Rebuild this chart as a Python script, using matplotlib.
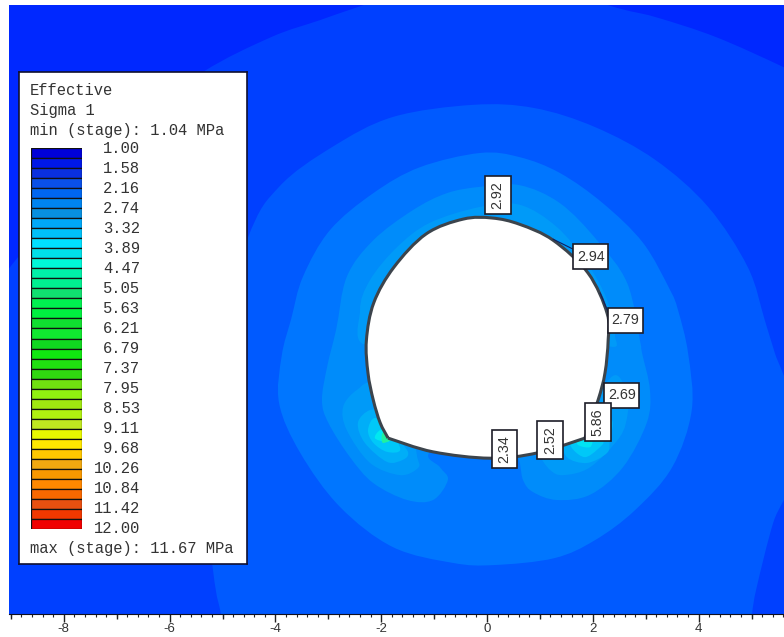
import matplotlib
matplotlib.use('Agg')
import matplotlib.pyplot as plt
from matplotlib.patches import PathPatch, Rectangle
from matplotlib.path import Path
import numpy as np

plt.rcParams['axes.unicode_minus'] = False

# tunnel boundary, model units (clockwise from crown), floor runs between the two corners
tunnel_arch = [(-1.87, -1.76), (-2.02, -1.47), (-2.15, -1.04), (-2.25, -.53), (-2.28, .09),
               (-2.14, .80), (-1.76, 1.47), (-1.15, 2.10), (-.45, 2.38), (.10, 2.40), (.62, 2.28),
               (1.25, 1.98), (1.91, 1.36), (2.27, .60), (2.29, .09), (2.23, -.53), (2.10, -1.04),
               (1.85, -1.76)]
tunnel_floor = [(1.85, -1.76), (.95, -2.04), (.06, -2.14), (-1.02, -2.02), (-1.87, -1.76)]

# stress contour outlines, outermost first
ring1 = [(-9.5, .8), (-7.8, 2.9), (-6.6, 4.2), (-5.37, 5.16), (-4.08, 5.82), (-3.16, 6.14), (-2.32, 6.43),
         (0, 7.2), (2.27, 6.43), (3.18, 6.20), (4.33, 5.82), (5.61, 5.25), (6.5, 4.8), (8, 1), (8, -6.5),
         (-11, -6.5), (-11, -2)]
ring2 = [(-5.03, -5.08), (-5.18, -4.25), (-5.52, -1.04), (-4.54, 1.98), (-3.93, 2.99), (-2.93, 3.74),
         (-1.78, 4.31), (-.26, 4.54), (.89, 4.48), (2.04, 4.12), (3.18, 3.50), (4.18, 2.61),
         (4.93, 1.47), (5.25, .47), (5.44, -.15), (5.73, -1.04), (5.73, -2.55), (5.41, -3.36),
         (5.10, -4.57), (5.01, -5.08), (4.97, -5.6), (-4.95, -5.6)]
ring3 = [(-3.70, .50), (-3.88, -.20), (-3.93, -1.10), (-3.53, -2.04), (-2.78, -3.06), (-1.78, -3.82),
         (-.64, -4.12), (.13, -4.16), (1.27, -4.03), (2.04, -3.69), (2.80, -3.12), (3.50, -2.31),
         (3.87, -1.23), (3.80, -.15), (3.61, .66), (3.46, 1.04), (2.95, 1.93), (2.19, 2.68),
         (1.38, 3.25), (.62, 3.55), (-.13, 3.63), (-1.27, 3.36), (-2.15, 2.87), (-2.97, 2.17),
         (-3.48, 1.29)]
ring4 = [(-.13, 2.99), (-.76, 2.87), (-1.40, 2.55), (-2.15, 1.98), (-2.65, 1.29), (-2.85, .30),
         (-3.02, -.40), (-3.12, -1.04), (-3.0, -1.47), (-2.59, -2.12), (-2.15, -2.61), (-1.51, -2.93),
         (-1.02, -2.93), (-.74, -2.55), (-.89, -2.31), (-1.08, -2.02), (-.13, -1.42), (.53, -2.02),
         (.68, -2.55), (.87, -2.78), (1.32, -2.93), (1.95, -2.83), (2.57, -2.31), (3.02, -1.47),
         (3.08, -.85), (2.93, -.15), (2.89, .09), (2.65, 1.17), (2.08, 1.98), (1.38, 2.68), (.62, 3.02)]
crown5 = [(-2.40, .66), (-2.21, 1.23), (-1.70, 1.85), (-1.08, 2.31), (-.13, 2.61), (.62, 2.65),
          (1.32, 2.23), (1.89, 1.55), (2.27, .85), (2.42, .19), (2.2, 0), (0, .85), (-2.2, 0)]
left5 = [(-2.72, -1.17), (-2.46, -.85), (-2.12, -.76), (-1.46, -1.61), (-1.32, -2.12), (-1.30, -2.32),
         (-1.64, -2.46), (-2.21, -2.23), (-2.65, -1.61)]
left6 = [(-2.44, -1.47), (-2.21, -1.23), (-1.93, -1.32), (-1.64, -1.80), (-1.49, -2.04), (-1.59, -2.17),
         (-1.89, -2.21), (-2.31, -1.85)]
left7 = [(-2.25, -1.61), (-2.12, -1.38), (-1.83, -1.61), (-1.64, -1.98), (-1.89, -2.02), (-2.15, -1.85)]
left8 = [(-2.02, -1.61), (-1.80, -1.61), (-1.83, -1.80), (-1.93, -1.83), (-2.12, -1.76)]
left9 = [(-1.97, -1.66), (-1.78, -1.76), (-1.97, -1.85)]
right5 = [(1.19, -2.36), (1.44, -2.46), (1.95, -2.31), (2.51, -1.74), (2.66, -1.29), (2.65, -.94),
          (2.42, -.57), (1.95, -1.04), (1.0, -1.80), (1.0, -2.08)]
right6 = [(1.51, -2.12), (1.89, -2.23), (2.27, -2.04), (2.32, -1.80), (2.36, -1.42), (1.95, -1.42),
          (1.47, -1.80)]
right7 = [(1.63, -1.98), (1.85, -2.12), (2.08, -1.98), (2.19, -1.80), (1.76, -1.61), (1.57, -1.80)]
right8 = [(1.72, -1.89), (1.95, -1.93), (1.98, -1.74), (1.72, -1.76)]

contours = [ring1, ring2, ring3, ring4, crown5, left5, left6, left7, left8, left9,
            right5, right6, right7, right8]
contour_colors = ['#0040ff', '#005aff', '#0076ff', '#008cfa', '#009af8', '#009af8', '#00aef8',
                  '#00c8f8', '#00e8f0', '#20f0a0', '#009af8', '#00aef8', '#00c8f8', '#00e4f4']
background = '#0028ff'

# query labels on the boundary
query_text = ['2.92', '2.94', '2.79', '2.69', '5.86', '2.52', '2.34']
query_x = [.20, 1.96, 2.62, 2.55, 2.09, 1.19, .33]
query_y = [2.84, 1.67, .47, -.95, -1.45, -1.80, -1.96]
query_vertical = [True, False, False, False, True, True, True]
leaders = [((1.25, 2.00), (1.63, 1.81)), ((2.14, .98), (2.29, .62))]

# legend
legend_values = ['1.00', '1.58', '2.16', '2.74', '3.32', '3.89', '4.47', '5.05', '5.63', '6.21',
                 '6.79', '7.37', '7.95', '8.53', '9.11', '9.68', '10.26', '10.84', '11.42', '12.00']
legend_colors = ['#0000d8', '#0018e8', '#0a30e0', '#0a50e8', '#0066f0', '#0084f0', '#0890e0', '#00a8f8',
                 '#00c0f8', '#00e0ff', '#00e0e8', '#00f8d8', '#00f0a8', '#00f090', '#10e070', '#00f050',
                 '#00f040', '#10e030', '#10e830', '#10d820', '#10e810', '#20e010', '#30d810', '#70e010',
                 '#90f010', '#a0e810', '#b0f010', '#c0e820', '#e8f800', '#ffe800', '#ffc800', '#f0a810',
                 '#f89800', '#ff8800', '#f86800', '#e85010', '#f03800', '#f00000']


def bezier_through(pts, closed):
    # catmull-rom through the read points, as bezier control points
    p = np.array(pts, dtype=float)
    n = len(p)
    verts = [p[0]]
    last = n if closed else n - 1
    for i in range(last):
        if closed:
            p0, p1, p2, p3 = p[(i - 1) % n], p[i], p[(i + 1) % n], p[(i + 2) % n]
        else:
            p0, p1, p2, p3 = p[max(i - 1, 0)], p[i], p[i + 1], p[min(i + 2, n - 1)]
        verts += [p1 + (p2 - p0) / 6, p2 - (p3 - p1) / 6, p2]
    return verts


def smooth_closed(pts):
    verts = bezier_through(pts, True)
    return Path(verts, [Path.MOVETO] + [Path.CURVE4] * (len(verts) - 1))


W, H = 784, 637
fig = plt.figure(figsize=(W / 100, H / 100), dpi=100, facecolor='white')

ax = fig.add_axes([9 / W, 1 - 614 / H, 775 / W, 609 / H], facecolor=background)
ax.set_xlim(-9.036, 5.614)
ax.set_ylim(-5.085, 6.427)

for pts, c in zip(contours, contour_colors):
    ax.add_patch(PathPatch(smooth_closed(pts), facecolor=c, edgecolor='none', linewidth=0))

verts = bezier_through(tunnel_arch, False) + bezier_through(tunnel_floor, False)[1:]
codes = [Path.MOVETO] + [Path.CURVE4] * (len(verts) - 1)
ax.add_patch(PathPatch(Path(verts, codes), facecolor='white', edgecolor='#3c444c', linewidth=2.2,
                       joinstyle='round', zorder=3))

for a, b in leaders:
    ax.plot([a[0], b[0]], [a[1], b[1]], color='#102060', linewidth=0.8, zorder=4)

for t, x, y, vert in zip(query_text, query_x, query_y, query_vertical):
    w, h = (.49, .72) if vert else (.66, .47)
    ax.add_patch(Rectangle((x - w / 2, y - h / 2), w, h, facecolor='white', edgecolor='#1c1c28',
                           linewidth=1.2, zorder=5))
    ax.text(x, y, t, rotation=90 if vert else 0, ha='center', va='center', fontsize=10.3,
            family='Liberation Sans', color='#333333', zorder=6)

# bottom ruler
for s in ['top', 'left', 'right']:
    ax.spines[s].set_visible(False)
ax.spines['bottom'].set_color('#101020')
ax.set_yticks([])
ax.set_xticks(np.arange(-8, 5, 2))
ax.set_xticks(np.arange(-9, 5.7, 0.2), minor=True)
ax.tick_params(axis='x', which='major', length=5.8, width=1, color='#222222', pad=0.5,
               labelsize=9.5, labelcolor='#333333')
ax.tick_params(axis='x', which='minor', length=1.8, width=0.8, color='#222222')
for lab in ax.get_xticklabels():
    lab.set_family('Liberation Sans')
mid = ax.secondary_xaxis('bottom')
mid.set_xticks(np.arange(-9, 6, 2))
mid.set_xticklabels([])
mid.tick_params(length=3.6, width=1, color='#222222')
mid.spines['bottom'].set_visible(False)

# legend box, axes units are picture pixels
leg = fig.add_axes([19 / W, 1 - 564 / H, 228 / W, 492 / H], facecolor='white', zorder=10)
leg.set_xlim(19, 247)
leg.set_ylim(564, 72)
leg.set_xticks([])
leg.set_yticks([])
for s in leg.spines.values():
    s.set_color('#101030')
    s.set_linewidth(1.2)

mono = dict(family='Liberation Mono', fontsize=11.2, color='#333333', va='center')
leg.text(30, 91, 'Effective', **mono)
leg.text(30, 111, 'Sigma 1', **mono)
leg.text(30, 131, 'min (stage): 1.04 MPa', **mono)
leg.text(30, 549, 'max (stage): 11.67 MPa', **mono)
for i, v in enumerate(legend_values):
    leg.text(140, 149 + 20 * i, v, ha='right', **mono)

swatch = fig.add_axes([31 / W, 1 - 529 / H, 51 / W, 381 / H], zorder=11)
swatch.barh(np.arange(len(legend_colors)) + 0.5, 1, height=1, color=legend_colors,
            edgecolor='#101010', linewidth=0.9)
swatch.set_xlim(0, 1)
swatch.set_ylim(len(legend_colors), 0)
swatch.axis('off')

fig.savefig('out.png', dpi=100, facecolor='white')
